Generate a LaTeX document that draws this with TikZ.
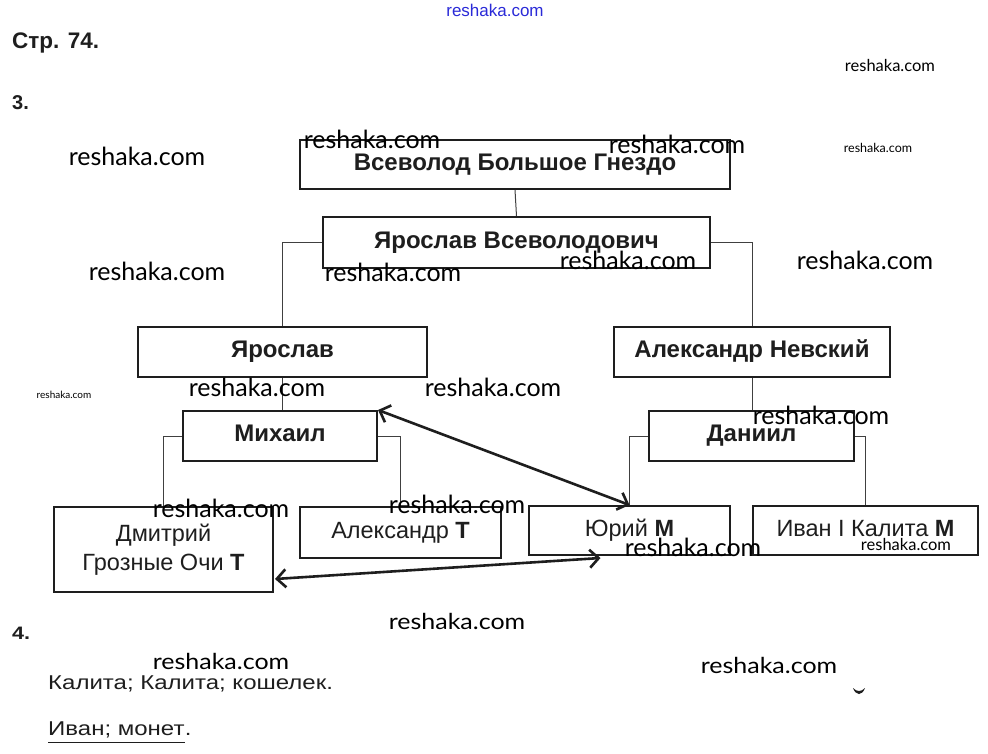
\documentclass[tikz,border=0pt]{standalone}
\usepackage{fontspec}
\setmainfont{Liberation Sans}
\newfontfamily\wmfont{Lato}
\usetikzlibrary{arrows.meta,calc}
\definecolor{ink}{HTML}{1E1E1E}
\definecolor{wmblue}{HTML}{2A2AD8}
\begin{document}
\begin{tikzpicture}[x=1pt,y=-1pt,
  box/.style={draw=ink, line width=2pt, inner sep=0pt, text=ink,
    font=\fontsize{23.5}{29}\selectfont, text height=17pt, text depth=6pt, align=center},
  bbox/.style={box, font=\bfseries\fontsize{24}{29}\selectfont},
  tallbox/.style={draw=ink, line width=2pt, inner sep=0pt, text=ink,
    font=\fontsize{23.5}{29}\selectfont, align=center},
  link/.style={draw=black!75, line width=1pt},
  dbl/.style={draw=ink, line width=2.6pt,
    {Straight Barb[length=9pt,width=18pt]}-{Straight Barb[length=9pt,width=18pt]}},
  wm/.style={anchor=base, inner sep=0pt, text=black, font=\wmfont\fontsize{#1}{#1}\selectfont},
  wm/.default=25,
  hd/.style={anchor=base west, inner sep=0pt, text=ink, font=\bfseries\fontsize{#1}{26}\selectfont},
  ans/.style={anchor=base west, inner sep=0pt, text=ink, font=\fontsize{20}{24}\selectfont}
]
\useasboundingbox[fill=white] (0,0) rectangle (988,753);

% headers
\node[hd=22.5] (h1) at (12,48) {Стр. 74.};
\node[hd=20] (h3) at (12,109) {3.};
\node[hd=18] (h4) at (12,639) {\scalebox{1.2}[1]{4.}};

% boxes
\node[bbox, minimum width=430pt, minimum height=49pt] (vs) at (515,164.5) {Всеволод Большое Гнездо};
\node[bbox, minimum width=387pt, minimum height=51pt] (yv) at (516.5,242.5) {Ярослав Всеволодович};
\node[bbox, minimum width=289pt, minimum height=50pt] (ya) at (282.5,352) {Ярослав};
\node[bbox, minimum width=276pt, minimum height=50pt] (an) at (752,352) {Александр Невский};
\node[bbox, minimum width=194pt, minimum height=50pt] (mi) at (280,436) {Михаил};
\node[bbox, minimum width=205pt, minimum height=50pt] (da) at (751.5,436) {Даниил};
\node[tallbox, minimum width=219pt, minimum height=85pt] (dm) at (163.5,549.5) {Дмитрий\\Грозные Очи \textbf{Т}};
\node[box, minimum width=201pt, minimum height=51pt] (at) at (400.5,532.5) {Александр \textbf{Т}};
\node[box, minimum width=201pt, minimum height=49pt] (yu) at (629.5,530.5) {Юрий \textbf{М}};
\node[box, minimum width=225pt, minimum height=49pt] (iv) at (865.5,530.5) {Иван I Калита \textbf{М}};

% connectors
\draw[link] (vs.south) -- (yv.north);
\draw[link] (yv.west) -| (ya.north);
\draw[link] (yv.east) -| (an.north);
\draw[link] (ya.south) -- (ya.south |- mi.north);
\draw[link] (an.south) -- (an.south |- da.north);
\draw[link] (mi.west) -| (dm.north);
\draw[link] (mi.east) -| (at.north);
\draw[link] (da.west) -| (yu.north);
\draw[link] (da.east) -| (iv.north);

% double arrows
\coordinate (dmr) at ($(dm.east)+(1,29.5)$);
\coordinate (yub) at ($(yu.south)+(-29,2)$);
\draw[dbl] (mi.north east) -- (yu.north);
\draw[dbl] (dmr) -- (yub);

% answers
\node[ans] (a1) at (48,689) {\scalebox{1.2}[1]{Калита; Калита; кошелек.}};
\node[ans] (a2) at (48,735) {\scalebox{1.2}[1]{Иван; монет}};
\node[ans] (a2p) at (a2.base east) {\scalebox{1.2}[1]{.}};
\draw[ink, line width=1.8pt] ($(a2.base west)+(0,7.5)$) -- ($(a2.base east)+(0,7.5)$);
\fill[ink] (853,688) .. controls (856,696) and (862,696) .. (865,688) .. controls (861,692) and (857,692) .. (853,688) -- cycle;

% watermarks
\node[anchor=base, inner sep=0pt, text=wmblue, font=\fontsize{17}{17}\selectfont] (w0) at (495,16) {reshaka.com};
\node[wm=16.5] (w1) at (890,71) {reshaka.com};
\node[wm=12.5] (w2) at (878,152) {reshaka.com};
\node[wm=10] (w3) at (64,398) {reshaka.com};
\node[wm=16.5] (w4) at (906,550) {reshaka.com};
\node[wm] (w5) at (137,165) {reshaka.com};
\node[wm] (w6) at (372,148) {reshaka.com};
\node[wm] (w7) at (677,153) {reshaka.com};
\node[wm] (w8) at (157,280) {reshaka.com};
\node[wm] (w9) at (393,281) {reshaka.com};
\node[wm] (w10) at (628,269) {reshaka.com};
\node[wm] (w11) at (865,269) {reshaka.com};
\node[wm] (w12) at (257,396) {reshaka.com};
\node[wm] (w13) at (493,396) {reshaka.com};
\node[wm] (w14) at (821,424) {reshaka.com};
\node[wm] (w15) at (221,517) {reshaka.com};
\node[wm] (w16) at (457,513) {reshaka.com};
\node[wm] (w17) at (693,556) {reshaka.com};
\node[wm] (w18) at (457,629) {\scalebox{1}[0.88]{reshaka.com}};
\node[wm] (w19) at (221,669) {\scalebox{1}[0.88]{reshaka.com}};
\node[wm] (w20) at (769,673) {\scalebox{1}[0.88]{reshaka.com}};
\end{tikzpicture}
\end{document}
